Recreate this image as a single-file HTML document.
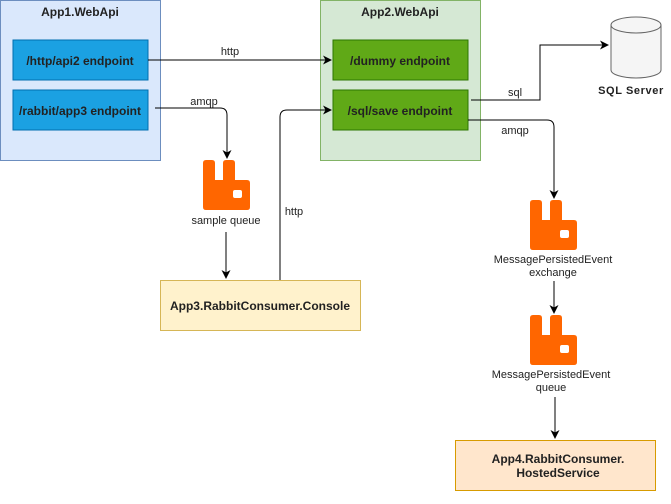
<!DOCTYPE html>
<html><head><meta charset="utf-8"><style>
body{margin:0;background:#fff;}
svg text{font-family:"Liberation Sans",Arial,sans-serif;}
</style></head><body>
<svg width="671" height="499" viewBox="0 0 671 499" xmlns="http://www.w3.org/2000/svg">
<defs>
<marker id="a" markerWidth="12" markerHeight="12" refX="9" refY="6" orient="auto" markerUnits="userSpaceOnUse"><path d="M1,1.5 L10,6 L1,10.5 L3.5,6 Z" fill="#000"/></marker>
<g id="rb"><path d="M0,3 Q0,0 3,0 L9,0 Q12,0 12,3 L12,20 L20,20 L20,3 Q20,0 23,0 L29,0 Q32,0 32,3 L32,20 L44,20 Q47,20 47,23 L47,47 Q47,50 44,50 L3,50 Q0,50 0,47 Z" fill="#ff6600"/><rect x="30" y="30" width="9" height="8" rx="2" fill="#fff"/></g>
</defs>
<rect x="0.5" y="0.5" width="160" height="160" fill="#dae8fc" stroke="#6c8ebf"/>
<text x="80" y="16" text-anchor="middle" font-size="12" font-weight="bold" fill="#222">App1.WebApi</text>
<rect x="13" y="40" width="135" height="40" fill="#1ba1e2" stroke="#006eaf"/>
<text x="80" y="65" text-anchor="middle" font-size="12" font-weight="bold" fill="#222">/http/api2 endpoint</text>
<rect x="13" y="90" width="135" height="40" fill="#1ba1e2" stroke="#006eaf"/>
<text x="80" y="115" text-anchor="middle" font-size="12" font-weight="bold" fill="#222">/rabbit/app3 endpoint</text>
<rect x="320.5" y="0.5" width="160" height="160" fill="#d5e8d4" stroke="#82b366"/>
<text x="400" y="16" text-anchor="middle" font-size="12" font-weight="bold" fill="#222">App2.WebApi</text>
<rect x="333" y="40" width="135" height="40" fill="#60a917" stroke="#2d7600"/>
<text x="400" y="65" text-anchor="middle" font-size="12" font-weight="bold" fill="#222">/dummy endpoint</text>
<rect x="333" y="90" width="135" height="40" fill="#60a917" stroke="#2d7600"/>
<text x="400" y="115" text-anchor="middle" font-size="12" font-weight="bold" fill="#222">/sql/save endpoint</text>
<path d="M611,25 L611,70 A25,8 0 0 0 661,70 L661,25" fill="#f5f5f5" stroke="#666"/>
<ellipse cx="636" cy="25" rx="25" ry="8" fill="#f5f5f5" stroke="#666"/>
<text x="631" y="94" text-anchor="middle" font-size="11" font-weight="bold" letter-spacing="0.6" fill="#222">SQL Server</text>
<g fill="none" stroke="#000" stroke-width="1">
<path d="M148,60 L331,60" marker-end="url(#a)"/>
<path d="M155,108 L220,108 Q227,108 227,115 L227,158" marker-end="url(#a)"/>
<path d="M226,232 L226,278" marker-end="url(#a)"/>
<path d="M280,280 L280,117 Q280,110 287,110 L331,110" marker-end="url(#a)"/>
<path d="M471,100 L540,100 L540,45 L608,45" marker-end="url(#a)"/>
<path d="M468,120 L547,120 Q554,120 554,127 L554,198" marker-end="url(#a)"/>
<path d="M554,281 L554,313" marker-end="url(#a)"/>
<path d="M555,397 L555,438" marker-end="url(#a)"/>
</g>
<text x="230" y="55" text-anchor="middle" font-size="11" fill="#222">http</text>
<text x="204" y="105" text-anchor="middle" font-size="11" fill="#222">amqp</text>
<text x="294" y="215" text-anchor="middle" font-size="11" fill="#222">http</text>
<text x="515" y="96" text-anchor="middle" font-size="11" fill="#222">sql</text>
<text x="515" y="134" text-anchor="middle" font-size="11" fill="#222">amqp</text>
<use href="#rb" x="203" y="160"/>
<text x="226" y="224" text-anchor="middle" font-size="11" fill="#222">sample queue</text>
<use href="#rb" x="530" y="200"/>
<text x="553" y="263" text-anchor="middle" font-size="11" fill="#222">MessagePersistedEvent</text>
<text x="553" y="276" text-anchor="middle" font-size="11" fill="#222">exchange</text>
<use href="#rb" x="530" y="315"/>
<text x="551" y="378" text-anchor="middle" font-size="11" fill="#222">MessagePersistedEvent</text>
<text x="551" y="391" text-anchor="middle" font-size="11" fill="#222">queue</text>
<rect x="160.5" y="280.5" width="200" height="50" fill="#fff2cc" stroke="#d6b656"/>
<text x="260" y="310" text-anchor="middle" font-size="12" font-weight="bold" fill="#222">App3.RabbitConsumer.Console</text>
<rect x="455.5" y="440.5" width="200" height="50" fill="#ffe6cc" stroke="#d79b00"/>
<text x="558" y="463" text-anchor="middle" font-size="12" font-weight="bold" fill="#222">App4.RabbitConsumer.</text>
<text x="558" y="477" text-anchor="middle" font-size="12" font-weight="bold" fill="#222">HostedService</text>
</svg>
</body></html>
